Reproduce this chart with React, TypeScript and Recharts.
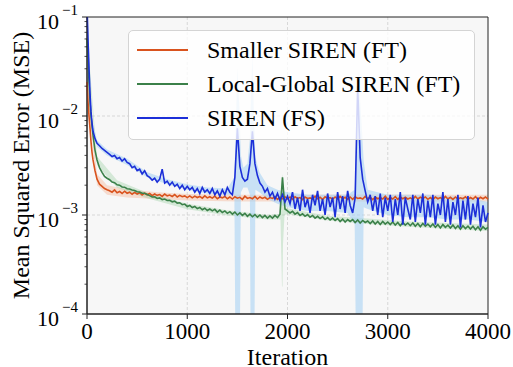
import React from 'react';
import { ComposedChart, Line, Area, XAxis, YAxis, CartesianGrid, Legend, ReferenceArea } from 'recharts';

const FONT = '"Liberation Serif", "Times New Roman", Times, serif';

// iterations: dense at the start, then every 25 iterations
const earlyIters = [0, 10, 20, 30, 40, 50, 60, 80, 100, 125, 150, 175, 200];
const laterIters = Array.from({ length: 152 }, (_, i) => 225 + 25 * i);
const iterations = [...earlyIters, ...laterIters];

// MSE values, in units of 1e-3
const smallerMse = [
  22, 14, 10, 7.5, 5.5, 4.3, 3.6, 2.8, 2.3, 2.05, 1.95, 1.85, 1.8,
  1.76, 1.70, 1.79, 1.68, 1.73, 1.65, 1.74, 1.66,
  1.70, 1.62, 1.69, 1.63, 1.68, 1.59, 1.66, 1.60,
  1.65, 1.57, 1.63, 1.58, 1.61, 1.54, 1.63, 1.56,
  1.59, 1.54, 1.61, 1.52, 1.58, 1.53, 1.56, 1.50,
  1.56, 1.49, 1.55, 1.50, 1.54, 1.48, 1.56, 1.49,
  1.53, 1.48, 1.55, 1.46, 1.52, 1.49, 1.54, 1.46,
  1.52, 1.45, 1.53, 1.48, 1.51, 1.44, 1.55, 1.47,
  1.50, 1.46, 1.54, 1.45, 1.52, 1.47, 1.51, 1.44,
  1.50, 1.47, 1.53, 1.44, 1.51, 1.46, 1.53, 1.45,
  1.52, 1.44, 1.53, 1.47, 1.50, 1.43, 1.52, 1.47,
  1.49, 1.45, 1.55, 1.46, 1.51, 1.43, 1.53, 1.47,
  1.50, 1.44, 1.52, 1.45, 1.54, 1.46, 1.51, 1.44,
  1.52, 1.44, 1.53, 1.47, 1.49, 1.45, 1.54, 1.46,
  1.51, 1.43, 1.52, 1.46, 1.50, 1.45, 1.55, 1.44,
  1.50, 1.45, 1.53, 1.44, 1.52, 1.46, 1.51, 1.45,
  1.49, 1.44, 1.54, 1.45, 1.51, 1.47, 1.52, 1.44,
  1.50, 1.43, 1.52, 1.46, 1.50, 1.44, 1.54, 1.45,
  1.51, 1.44, 1.52, 1.45, 1.49, 1.46, 1.53, 1.44,
  1.50, 1.45, 1.53, 1.44, 1.51, 1.46, 1.52, 1.45,
];

const localGlobalMse = [
  60, 40, 22, 14, 10, 8, 6.4, 4.5, 3.6, 3.0, 2.7, 2.45, 2.35,
  2.27, 2.15, 2.12, 2.02, 2.00, 1.92, 1.91, 1.84,
  1.83, 1.79, 1.77, 1.72, 1.71, 1.66, 1.66, 1.61,
  1.57, 1.52, 1.53, 1.47, 1.49, 1.43, 1.45, 1.40,
  1.41, 1.36, 1.38, 1.32, 1.33, 1.27, 1.29, 1.22,
  1.25, 1.19, 1.22, 1.16, 1.19, 1.13, 1.17, 1.11,
  1.15, 1.10, 1.14, 1.07, 1.12, 1.06, 1.10, 1.04,
  1.08, 1.02, 1.07, 1.00, 1.05, 0.99, 1.04, 0.97,
  1.02, 0.96, 1.01, 0.95, 1.00, 0.94, 0.99, 0.93,
  0.98, 0.93, 0.99, 0.94, 1.02, 2.40, 1.15, 1.10,
  1.05, 1.09, 1.02, 1.06, 0.99, 1.03, 0.97, 1.01,
  0.95, 0.99, 0.93, 0.97, 0.92, 0.96, 0.90, 0.94,
  0.89, 0.93, 0.88, 0.92, 0.86, 0.91, 0.85, 0.90,
  0.86, 0.90, 0.84, 0.89, 0.83, 0.88, 0.84, 0.87,
  0.82, 0.87, 0.81, 0.86, 0.80, 0.86, 0.81, 0.85,
  0.80, 0.85, 0.79, 0.84, 0.78, 0.84, 0.79, 0.83,
  0.78, 0.83, 0.77, 0.82, 0.76, 0.82, 0.77, 0.81,
  0.76, 0.81, 0.75, 0.80, 0.74, 0.80, 0.75, 0.79,
  0.74, 0.79, 0.73, 0.78, 0.72, 0.78, 0.73, 0.77,
  0.72, 0.77, 0.71, 0.76, 0.70, 0.76, 0.72, 0.75,
];

const sirenMse = [
  130, 60, 30, 17, 11, 8.5, 7.0, 5.9, 5.3, 5.0, 4.7, 4.5, 4.3,
  4.1, 3.9, 4.0, 3.7, 3.8, 3.5, 3.7, 3.4,
  3.3, 3.0, 3.1, 2.8, 2.9, 2.6, 2.8, 2.5,
  2.4, 2.25, 2.35, 2.15, 2.3, 2.9, 2.1, 2.2,
  2.0, 2.15, 1.95, 2.05, 1.85, 2.0, 1.8, 1.95,
  1.8, 1.9, 1.7, 1.85, 1.65, 1.9, 1.7, 1.8,
  1.65, 1.85, 1.6, 1.75, 1.55, 1.8, 1.6, 1.9,
  1.7, 1.6, 2.4, 7.5, 3.1, 2.4, 2.2, 2.3,
  3.3, 7.0, 3.3, 2.5, 2.1, 1.95, 1.7, 1.85,
  1.55, 1.7, 1.45, 1.65, 1.4, 1.6, 1.35, 1.55,
  1.3, 1.7, 1.15, 1.5, 1.1, 1.8, 1.2, 1.45,
  1.05, 1.6, 1.25, 1.75, 1.1, 1.45, 1.0, 1.65,
  1.2, 1.5, 0.95, 1.7, 1.15, 1.55, 1.05, 1.75,
  1.25, 1.05, 1.5, 20, 3.8, 2.3, 1.75, 1.35,
  1.6, 1.1, 1.55, 1.0, 1.65, 0.95, 1.5, 1.1,
  1.6, 0.85, 1.45, 1.0, 1.7, 0.8, 1.5, 1.15,
  0.9, 1.6, 0.85, 1.45, 1.05, 1.65, 0.8, 1.4,
  0.95, 1.6, 0.8, 1.3, 1.0, 1.7, 0.85, 1.45,
  0.8, 1.35, 1.0, 1.6, 0.75, 1.4, 0.9, 1.55,
  0.8, 1.3, 0.95, 1.5, 0.75, 1.25, 0.85, 1.05,
];

// spread bands (low / high), units of 1e-3
const smallerBandIters = [0, 100, 200, 400, 700, 1000, 1500, 2000, 2500, 3000, 3500, 4000];
const smallerBandLo = [18, 2.0, 1.6, 1.5, 1.45, 1.4, 1.37, 1.37, 1.37, 1.37, 1.37, 1.37];
const smallerBandHi = [26, 2.6, 2.0, 1.82, 1.7, 1.63, 1.6, 1.6, 1.61, 1.61, 1.6, 1.6];

const localGlobalBandIters = [0, 100, 300, 600, 1000, 1400, 1800, 1930, 1945, 1950, 1955, 1970, 2000, 2400, 2800, 3200, 3600, 4000];
const localGlobalBandLo = [50, 3.2, 1.88, 1.48, 1.14, 0.99, 0.9, 0.9, 0.19, 0.19, 0.5, 1.0, 1.02, 0.88, 0.81, 0.76, 0.72, 0.69];
const localGlobalBandHi = [70, 3.9, 2.25, 1.68, 1.3, 1.12, 1.0, 1.03, 2.4, 2.6, 2.0, 1.22, 1.17, 0.98, 0.92, 0.86, 0.83, 0.8];

const sirenBandIters = [0, 50, 100, 200, 400, 600, 800, 1000, 1200, 1400, 1470, 1485, 1500, 1520, 1535, 1560, 1600, 1625, 1635, 1650, 1665, 1680, 1720, 1800, 1900, 2000, 2200, 2400, 2600, 2670, 2690, 2705, 2740, 2760, 2800, 3000, 3200, 3400, 3600, 3800, 4000];
const sirenBandLo = [100, 7.5, 4.9, 4.0, 3.2, 2.4, 2.05, 1.8, 1.65, 1.6, 1.6, 0.01, 0.01, 0.01, 1.7, 1.9, 1.9, 1.6, 0.01, 0.01, 0.01, 1.8, 1.7, 1.45, 1.3, 1.2, 1.1, 1.1, 1.05, 0.8, 0.01, 0.01, 0.01, 1.2, 1.15, 1.0, 0.95, 0.95, 0.9, 0.9, 0.85];
const sirenBandHi = [150, 9.5, 5.7, 4.6, 3.7, 2.7, 2.3, 2.05, 1.9, 1.85, 2.4, 8, 30, 12, 4.0, 3.0, 3.3, 6, 15, 40, 10, 3.8, 2.7, 2.0, 1.8, 1.7, 1.6, 1.6, 1.6, 1.8, 8, 28, 8, 3.5, 1.8, 1.6, 1.6, 1.6, 1.55, 1.5, 1.35];

const seriesNames = ['Smaller SIREN (FT)', 'Local-Global SIREN (FT)', 'SIREN (FS)'];
const seriesColors = ['#d9531e', '#3b8049', '#1c2fd8'];

const xTicks = [0, 1000, 2000, 3000, 4000];
const yMajor = [1e-4, 1e-3, 1e-2, 1e-1];
const yExpLabels = ['\u22124', '\u22123', '\u22122', '\u22121'];
const minorMult = [2, 3, 4, 5, 6, 7, 8, 9];
const yTicks = [
  ...yMajor,
  ...yMajor.slice(0, 3).flatMap((d) => minorMult.map((m) => m * d)),
];

const table = iterations.map((it, i) => ({
  iter: it,
  smaller: smallerMse[i] / 1000,
  localGlobal: localGlobalMse[i] / 1000,
  siren: sirenMse[i] / 1000,
}));

const band = (iters: number[], lo: number[], hi: number[]) =>
  iters.map((it, i) => ({ iter: it, range: [lo[i] / 1000, hi[i] / 1000] }));

const smallerBand = band(smallerBandIters, smallerBandLo, smallerBandHi);
const localGlobalBand = band(localGlobalBandIters, localGlobalBandLo, localGlobalBandHi);
const sirenBand = band(sirenBandIters, sirenBandLo, sirenBandHi);

const YTick = (props: any) => {
  const { x, y, payload } = props;
  const idx = yMajor.findIndex((v) => Math.abs(v - payload.value) / v < 1e-6);
  const major = idx >= 0;
  return (
    <g>
      <line x1={x} x2={x - (major ? 5 : 2.5)} y1={y} y2={y} stroke="#222" strokeWidth={major ? 1 : 0.8} />
      {major && (
        <text x={x - 9} y={y + 12} textAnchor="end" fontFamily={FONT} fontSize={22} fill="#000">
          10
          <tspan dx={3} dy={-14} fontSize={15}>
            {yExpLabels[idx]}
          </tspan>
        </text>
      )}
    </g>
  );
};

const LegendBox = () => (
  <div
    style={{
      width: 347,
      height: 110,
      boxSizing: 'border-box',
      border: '1px solid #d4d4d4',
      borderRadius: 5,
      background: 'rgba(255,255,255,0.8)',
      fontFamily: FONT,
      fontSize: 24,
      color: '#000',
      paddingTop: 2,
    }}
  >
    {seriesNames.map((name, i) => (
      <div key={name} style={{ display: 'flex', alignItems: 'center', height: 34 }}>
        <span style={{ display: 'inline-block', width: 51, marginLeft: 8, borderTop: `2px solid ${seriesColors[i]}` }} />
        <span style={{ marginLeft: 19, lineHeight: 1, whiteSpace: 'nowrap' }}>{name}</span>
      </div>
    ))}
  </div>
);

export default function App() {
  return (
    <div style={{ position: 'absolute', left: 0, top: 0 }}>
      <ComposedChart width={513} height={367} data={table} margin={{ top: 17, right: 25, bottom: 0, left: 0 }}>
        <CartesianGrid
          fill="#f7f7f7"
          stroke="#cfcfcf"
          strokeDasharray="3 2"
          strokeWidth={0.8}
          horizontalValues={[1e-3, 1e-2]}
          verticalValues={[1000, 2000, 3000]}
        />
        <XAxis
          dataKey="iter"
          type="number"
          domain={[0, 4000]}
          ticks={xTicks}
          interval={0}
          height={53}
          tickSize={5}
          tickMargin={4}
          stroke="#222"
          tick={{ fontSize: 23, fill: '#000', fontFamily: FONT }}
          label={{ value: 'Iteration', position: 'insideBottom', offset: 2, style: { fontSize: 24, fill: '#000', fontFamily: FONT } }}
        />
        <YAxis
          type="number"
          scale="log"
          domain={[1e-4, 1e-1]}
          allowDataOverflow
          ticks={yTicks}
          interval={0}
          width={87}
          tickSize={0}
          tickMargin={0}
          tickLine={false}
          stroke="#222"
          tick={<YTick />}
          label={{
            value: 'Mean Squared Error (MSE)',
            angle: -90,
            position: 'insideLeft',
            offset: 20,
            style: { fontSize: 24, fill: '#000', fontFamily: FONT, textAnchor: 'middle' },
          }}
        />
        <Area data={smallerBand} dataKey="range" type="linear" stroke="none" fill="#f4a582" fillOpacity={0.35} legendType="none" isAnimationActive={false} />
        <Area data={localGlobalBand} dataKey="range" type="linear" stroke="none" fill="#9fd3a8" fillOpacity={0.4} legendType="none" isAnimationActive={false} />
        <Area data={sirenBand} dataKey="range" type="linear" stroke="none" fill="#a9d2f3" fillOpacity={0.6} legendType="none" isAnimationActive={false} />
        <Line dataKey="smaller" name={seriesNames[0]} type="linear" stroke={seriesColors[0]} strokeWidth={1.6} dot={false} isAnimationActive={false} />
        <Line dataKey="localGlobal" name={seriesNames[1]} type="linear" stroke={seriesColors[1]} strokeWidth={1.6} dot={false} isAnimationActive={false} />
        <Line dataKey="siren" name={seriesNames[2]} type="linear" stroke={seriesColors[2]} strokeWidth={1.6} dot={false} isAnimationActive={false} />
        <ReferenceArea x1={0} x2={4000} y1={1e-4} y2={1e-1} fill="none" stroke="#222" strokeWidth={1} />
        <Legend
          layout="vertical"
          align="center"
          verticalAlign="middle"
          content={<LegendBox />}
          wrapperStyle={{ left: 128, top: 30, width: 347, height: 110 }}
        />
      </ComposedChart>
    </div>
  );
}
